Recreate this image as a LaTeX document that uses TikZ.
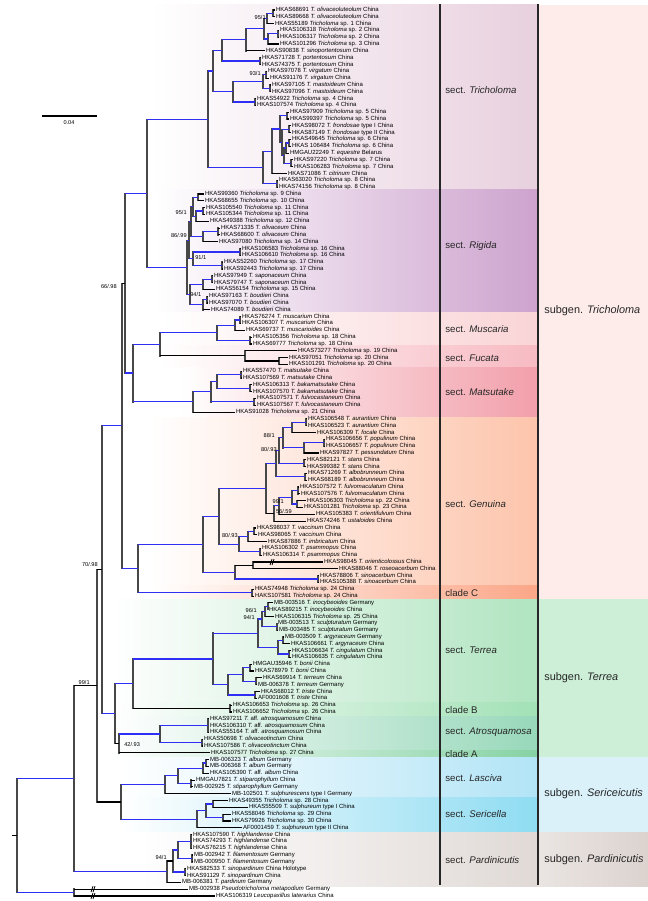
\documentclass[tikz,border=0pt]{standalone}
\usepackage{fontspec}
\setmainfont{Liberation Sans}
\usetikzlibrary{calc}

\definecolor{brBlue}{HTML}{2E2EF5}
\definecolor{cTri}{HTML}{E8D0DE}
\definecolor{cRig}{HTML}{CDA3CE}
\definecolor{cMus}{HTML}{FAD4D6}
\definecolor{cFuc}{HTML}{F7BAC2}
\definecolor{cMat}{HTML}{F29FAA}
\definecolor{cGen}{HTML}{FDC4AB}
\definecolor{cClC}{HTML}{FBA687}
\definecolor{cTer}{HTML}{B0E4C0}
\definecolor{cClB}{HTML}{A2E1B6}
\definecolor{cAtr}{HTML}{98D8BA}
\definecolor{cClA}{HTML}{86D2A4}
\definecolor{cLas}{HTML}{B2E4F6}
\definecolor{cSer}{HTML}{8FDCF2}
\definecolor{cPar}{HTML}{E0D9D6}
\definecolor{gTri}{HTML}{FDECEA}
\definecolor{gTer}{HTML}{CDEFD7}
\definecolor{gSer}{HTML}{DAF1FA}
\definecolor{gPar}{HTML}{DCD3CF}

% tip label, inner node, branch, coloured band
\newcommand\tipnode[4]{\node[tip] (#1) at (#2,{10+(#3-1)*6.815}) {#4};}
\newcommand\inode[4]{\path let \p1=(#3), \p2=(#4), \p3=(#2,0) in coordinate (#1) at (\x3,{0.5*\y1+0.5*\y2});}
\newcommand\branch[3][hk]{\draw[vt] (#2) -- (#2 |- #3); \draw[#1] (#2 |- #3) -- (#3);}
\newcommand\band[5]{\fill[left color=white, right color=#5] (#3,#1) rectangle (#4,#2);}

\begin{document}
\begin{tikzpicture}[x=0.2mm,y=-0.2mm,
    tip/.style={anchor=west, inner xsep=0.4pt, inner ysep=0pt, text height=2.4pt, text depth=0.7pt, font=\fontsize{3.4}{3.4}\selectfont},
    sup/.style={inner sep=0pt, font=\fontsize{3.2}{3.2}\selectfont},
    sect/.style={anchor=west, inner sep=0pt, text=black!85, font=\fontsize{5.5}{6}\selectfont},
    subg/.style={anchor=west, inner sep=0pt, text=black!85, font=\fontsize{6.2}{7}\selectfont},
    vt/.style={draw=black!72, line width=0.75pt, line cap=rect},
    hb/.style={draw=brBlue, line width=0.7pt},
    hk/.style={draw=black, line width=0.65pt},
    brk/.style={draw=black, line width=0.45pt},
    sepl/.style={draw=black!85, line width=1pt}]
\useasboundingbox (0,0) rectangle (648,901);

% bands
\band{5}{190}{150}{538}{cTri}
\band{190}{313}{155}{538}{cRig}
\band{313}{346}{160}{538}{cMus}
\band{346}{368}{160}{538}{cFuc}
\band{368}{417}{180}{538}{cMat}
\band{417}{585}{150}{538}{cGen}
\band{585}{599}{150}{538}{cClC}
\band{599}{702}{110}{538}{cTer}
\band{702}{716}{110}{538}{cClB}
\band{716}{750}{110}{538}{cAtr}
\band{750}{757}{110}{538}{cClA}
\band{757}{797}{120}{538}{cLas}
\band{797}{832}{120}{538}{cSer}
\band{832}{886}{140}{538}{cPar}
\fill[gTri] (538,5) rectangle (648,599);
\fill[gTer] (538,599) rectangle (648,757);
\fill[gSer] (538,757) rectangle (648,832);
\fill[left color=gPar!60!white, right color=gPar] (538,832) rectangle (648,886);
\draw[sepl] (440,4) -- (440,885);
\draw[sepl] (538,4) -- (538,885);

% section and subgenus names
\node[sect] (secTri) at (445,90) {sect. \textit{Tricholoma}};
\node[sect] (secRig) at (445,246) {sect. \textit{Rigida}};
\node[sect] (secMus) at (445,329) {sect. \textit{Muscaria}};
\node[sect] (secFuc) at (445,358) {sect. \textit{Fucata}};
\node[sect] (secMat) at (445,392) {sect. \textit{Matsutake}};
\node[sect] (secGen) at (445,504) {sect. \textit{Genuina}};
\node[sect] (secClC) at (445,593) {clade C};
\node[sect] (secTer) at (445,650) {sect. \textit{Terrea}};
\node[sect] (secClB) at (445,710) {clade B};
\node[sect] (secAtr) at (445,732) {sect. \textit{Atrosquamosa}};
\node[sect] (secClA) at (445,754) {clade A};
\node[sect] (secLas) at (445,778) {sect. \textit{Lasciva}};
\node[sect] (secSer) at (445,814) {sect. \textit{Sericella}};
\node[sect] (secPar) at (445,860) {sect. \textit{Pardinicutis}};
\node[subg] (subTri) at (544,311) {subgen. \textit{Tricholoma}};
\node[subg] (subTer) at (544,678) {subgen. \textit{Terrea}};
\node[subg] (subSer) at (544,794) {subgen. \textit{Sericeicutis}};
\node[subg] (subPar) at (544,860) {subgen. \textit{Pardinicutis}};

% tips
\tipnode{l1}{275}{1}{HKAS68691 \textit{T. olivaceoluteolum} China}
\tipnode{l2}{275}{2}{HKAS89668 \textit{T. olivaceoluteolum} China}
\tipnode{l3}{274}{3}{HKAS55189 \textit{Tricholoma} sp. 1 China}
\tipnode{l4}{279}{4}{HKAS106318 \textit{Tricholoma} sp. 2 China}
\tipnode{l5}{279}{5}{HKAS106317 \textit{Tricholoma} sp. 2 China}
\tipnode{l6}{279}{6}{HKAS101296 \textit{Tricholoma} sp. 3 China}
\tipnode{l7}{265}{7}{HKAS90838 \textit{T. sinoportentosum} China}
\tipnode{l8}{261}{8}{HKAS71728 \textit{T. portentosum} China}
\tipnode{l9}{261}{9}{HKAS74375 \textit{T. portentosum} China}
\tipnode{l10}{267}{10}{HKAS97078 \textit{T. virgatum} China}
\tipnode{l11}{269}{11}{HKAS91176 \textit{T. virgatum} China}
\tipnode{l12}{271}{12}{HKAS97105 \textit{T. mastoideum} China}
\tipnode{l13}{271}{13}{HKAS97096 \textit{T. mastoideum} China}
\tipnode{l14}{256}{14}{HKAS54922 \textit{Tricholoma} sp. 4 China}
\tipnode{l15}{256}{15}{HKAS107574 \textit{Tricholoma} sp. 4 China}
\tipnode{l16}{289}{16}{HKAS97909 \textit{Tricholoma} sp. 5 China}
\tipnode{l17}{289}{17}{HKAS99397 \textit{Tricholoma} sp. 5 China}
\tipnode{l18}{291}{18}{HKAS98072 \textit{T. frondosae} type I China}
\tipnode{l19}{291}{19}{HKAS87149 \textit{T. frondosae} type II China}
\tipnode{l20}{291}{20}{HKAS49645 \textit{Tricholoma} sp. 6 China}
\tipnode{l21}{291}{21}{HKAS 106484 \textit{Tricholoma} sp. 6 China}
\tipnode{l22}{289}{22}{HMGAU22249 \textit{T. equestre} Belarus}
\tipnode{l23}{293}{23}{HKAS97220 \textit{Tricholoma} sp. 7 China}
\tipnode{l24}{293}{24}{HKAS106283 \textit{Tricholoma} sp. 7 China}
\tipnode{l25}{287}{25}{HKAS71086 \textit{T. citrinum} China}
\tipnode{l26}{278}{26}{HKAS63020 \textit{Tricholoma} sp. 8 China}
\tipnode{l27}{278}{27}{HKAS74156 \textit{Tricholoma} sp. 8 China}
\tipnode{l28}{204}{28}{HKAS99360 \textit{Tricholoma} sp. 9 China}
\tipnode{l29}{204}{29}{HKAS68655 \textit{Tricholoma} sp. 10 China}
\tipnode{l30}{205}{30}{HKAS105540 \textit{Tricholoma} sp. 11 China}
\tipnode{l31}{205}{31}{HKAS105344 \textit{Tricholoma} sp. 11 China}
\tipnode{l32}{209}{32}{HKAS49388 \textit{Tricholoma} sp. 12 China}
\tipnode{l33}{220}{33}{HKAS71335 \textit{T. olivaceum} China}
\tipnode{l34}{220}{34}{HKAS68600 \textit{T. olivaceum} China}
\tipnode{l35}{218}{35}{HKAS97080 \textit{Tricholoma} sp. 14 China}
\tipnode{l36}{241}{36}{HKAS106583 \textit{Tricholoma} sp. 16 China}
\tipnode{l37}{241}{37}{HKAS106610 \textit{Tricholoma} sp. 16 China}
\tipnode{l38}{223}{38}{HKAS52260 \textit{Tricholoma} sp. 17 China}
\tipnode{l39}{223}{39}{HKAS92443 \textit{Tricholoma} sp. 17 China}
\tipnode{l40}{213}{40}{HKAS97949 \textit{T. saponaceum} China}
\tipnode{l41}{213}{41}{HKAS79747 \textit{T. saponaceum} China}
\tipnode{l42}{215}{42}{HKAS56154 \textit{Tricholoma} sp. 15 China}
\tipnode{l43}{208}{43}{HKAS97163 \textit{T. boudieri} China}
\tipnode{l44}{208}{44}{HKAS97070 \textit{T. boudieri} China}
\tipnode{l45}{210}{45}{HKAS74089 \textit{T. boudieri} China}
\tipnode{l46}{241}{46}{HKAS76274 \textit{T. muscarium} China}
\tipnode{l47}{241}{47}{HKAS106307 \textit{T. muscarium} China}
\tipnode{l48}{245}{48}{HKAS69737 \textit{T. muscarioides} China}
\tipnode{l49}{252}{49}{HKAS105356 \textit{Tricholoma} sp. 18 China}
\tipnode{l50}{252}{50}{HKAS69777 \textit{Tricholoma} sp. 18 China}
\tipnode{l51}{297}{51}{HKAS73277 \textit{Tricholoma} sp. 19 China}
\tipnode{l52}{288}{52}{HKAS97051 \textit{Tricholoma} sp. 20 China}
\tipnode{l53}{288}{53}{HKAS101291 \textit{Tricholoma} sp. 20 China}
\tipnode{l54}{242}{54}{HKAS57470 \textit{T. matsutake} China}
\tipnode{l55}{242}{55}{HKAS107569 \textit{T. matsutake} China}
\tipnode{l56}{252}{56}{HKAS106313 \textit{T. bakamatsutake} China}
\tipnode{l57}{252}{57}{HKAS107570 \textit{T. bakamatsutake} China}
\tipnode{l58}{256}{58}{HKAS107571 \textit{T. fulvocastaneum} China}
\tipnode{l59}{256}{59}{HKAS107567 \textit{T. fulvocastaneum} China}
\tipnode{l60}{235}{60}{HKAS91028 \textit{Tricholoma} sp. 21 China}
\tipnode{l61}{307}{61}{HKAS106548 \textit{T. aurantium} China}
\tipnode{l62}{307}{62}{HKAS106523 \textit{T. aurantium} China}
\tipnode{l63}{316}{63}{HKAS106309 \textit{T. focale} China}
\tipnode{l64}{325}{64}{HKAS106656 \textit{T. populinum} China}
\tipnode{l65}{325}{65}{HKAS106657 \textit{T. populinum} China}
\tipnode{l66}{319}{66}{HKAS97827 \textit{T. pessundatum} China}
\tipnode{l67}{306}{67}{HKAS82121 \textit{T. stans} China}
\tipnode{l68}{306}{68}{HKAS99382 \textit{T. stans} China}
\tipnode{l69}{307}{69}{HKAS71269 \textit{T. albobrunneum} China}
\tipnode{l70}{307}{70}{HKAS68189 \textit{T. albobrunneum} China}
\tipnode{l71}{299}{71}{HKAS107572 \textit{T. fulvomaculatum} China}
\tipnode{l72}{300}{72}{HKAS107576 \textit{T. fulvomaculatum} China}
\tipnode{l73}{306}{73}{HKAS106303 \textit{Tricholoma} sp. 22 China}
\tipnode{l74}{303}{74}{HKAS101281 \textit{Tricholoma} sp. 23 China}
\tipnode{l75}{315}{75}{HKAS105383 \textit{T. orientifulvum} China}
\tipnode{l76}{306}{76}{HKAS74246 \textit{T. ustaloides} China}
\tipnode{l77}{256}{77}{HKAS98037 \textit{T. vaccinum} China}
\tipnode{l78}{257}{78}{HKAS98065 \textit{T. vaccinum} China}
\tipnode{l79}{267}{79}{HKAS87886 \textit{T. imbricatum} China}
\tipnode{l80}{261}{80}{HKAS106302 \textit{T. psammopus} China}
\tipnode{l81}{262}{81}{HKAS106314 \textit{T. psammopus} China}
\tipnode{l82}{323}{82}{HKAS98045 \textit{T. orienticolossus} China}
\tipnode{l83}{338}{83}{HKAS88046 \textit{T. roseoacerbum} China}
\tipnode{l84}{319}{84}{HKAS78806 \textit{T. sinoacerbum} China}
\tipnode{l85}{319}{85}{HKAS105388 \textit{T. sinoacerbum} China}
\tipnode{l86}{254}{86}{HKAS74948 \textit{Tricholoma} sp. 24 China}
\tipnode{l87}{254}{87}{HAKS107581 \textit{Tricholoma} sp. 24 China}
\tipnode{l88}{273}{88}{MB-003516 \textit{T. inocybeoides} Germany}
\tipnode{l89}{268}{89}{HKAS89215 \textit{T. inocybeoides} China}
\tipnode{l90}{274}{90}{HKAS106315 \textit{Tricholoma} sp. 25 China}
\tipnode{l91}{277}{91}{MB-003513 \textit{T. sculpturatum} Germany}
\tipnode{l92}{278}{92}{MB-003485 \textit{T. sculpturatum} Germany}
\tipnode{l93}{284}{93}{MB-003509 \textit{T. argyraceum} Germany}
\tipnode{l94}{290}{94}{HKAS106661 \textit{T. argyraceum} China}
\tipnode{l95}{291}{95}{HKAS106634 \textit{T. cingulatum} China}
\tipnode{l96}{291}{96}{HKAS106635 \textit{T. cingulatum} China}
\tipnode{l97}{252}{97}{HMGAU35946 \textit{T. bonii} China}
\tipnode{l98}{254}{98}{HKAS78979 \textit{T. bonii} China}
\tipnode{l99}{262}{99}{HKAS69914 \textit{T. terreum} China}
\tipnode{l100}{257}{100}{MB-006378 \textit{T. terreum} Germany}
\tipnode{l101}{260}{101}{HKAS68012 \textit{T. triste} China}
\tipnode{l102}{257}{102}{AF0001608 \textit{T. triste} China}
\tipnode{l103}{232}{103}{HKAS106653 \textit{Tricholoma} sp. 26 China}
\tipnode{l104}{232}{104}{HKAS106652 \textit{Tricholoma} sp. 26 China}
\tipnode{l105}{209}{105}{HKAS97211 \textit{T.} aff. \textit{atrosquamosum} China}
\tipnode{l106}{209}{106}{HKAS106310 \textit{T.} aff. \textit{atrosquamosum} China}
\tipnode{l107}{209}{107}{HKAS55164 \textit{T.} aff. \textit{atrosquamosum} China}
\tipnode{l108}{203}{108}{HKAS50698 \textit{T. olivaceotinctum} China}
\tipnode{l109}{203}{109}{HKAS107586 \textit{T. olivaceotinctum} China}
\tipnode{l110}{210}{110}{HKAS107577 \textit{Tricholoma} sp. 27 China}
\tipnode{l111}{209}{111}{MB-006323 \textit{T. album} Germany}
\tipnode{l112}{209}{112}{MB-006368 \textit{T. album} Germany}
\tipnode{l113}{209}{113}{HKAS105390 \textit{T.} aff. \textit{album} China}
\tipnode{l114}{195}{114}{HMGAU7821 \textit{T. stiparophyllum} China}
\tipnode{l115}{193}{115}{MB-002925 \textit{T. stiparophyllum} Germany}
\tipnode{l116}{231}{116}{MB-102501 \textit{T. sulphurescens} type I Germany}
\tipnode{l117}{228}{117}{HKAS49355 \textit{Tricholoma} sp. 28 China}
\tipnode{l118}{248}{118}{HKAS55509 \textit{T. sulphureum} type I China}
\tipnode{l119}{231}{119}{HKAS58046 \textit{Tricholoma} sp. 29 China}
\tipnode{l120}{231}{120}{HKAS79926 \textit{Tricholoma} sp. 30 China}
\tipnode{l121}{242}{121}{AF0001459 \textit{T. sulphureum} type II China}
\tipnode{l122}{192}{122}{HKAS107590 \textit{T. highlandense} China}
\tipnode{l123}{192}{123}{HKAS74293 \textit{T. highlandense} China}
\tipnode{l124}{192}{124}{HKAS76215 \textit{T. highlandense} China}
\tipnode{l125}{193}{125}{MB-002942 \textit{T. filamentosum} Germany}
\tipnode{l126}{193}{126}{MB-000950 \textit{T. filamentosum} Germany}
\tipnode{l127}{186}{127}{HKAS82533 \textit{T. sinopardinum} China Holotype}
\tipnode{l128}{186}{128}{HKAS91129 \textit{T. sinopardinum} China}
\tipnode{l129}{181}{129}{MB-006381 \textit{T. pardinum} Germany}
\tipnode{l130}{188}{130}{MB-002938 \textit{Pseudotricholoma metapodium} Germany}
\tipnode{l131}{215}{131}{HKAS106319 \textit{Leucopaxillus laterarius} China}

% sect. Tricholoma
\inode{olv}{273}{l1}{l2} \branch{olv}{l1} \branch{olv}{l2}
\inode{n95}{267}{olv}{l3} \branch[hb]{n95}{olv} \branch{n95}{l3}
\inode{sp2}{278}{l4}{l5} \branch{sp2}{l4} \branch{sp2}{l5}
\inode{sp3}{268}{sp2}{l6} \branch[hb]{sp3}{sp2} \branch{sp3}{l6}
\inode{t1aaa}{264}{n95}{sp3} \branch[hb]{t1aaa}{n95} \branch[hb]{t1aaa}{sp3}
\inode{t1aa}{246}{t1aaa}{l7} \branch[hb]{t1aa}{t1aaa} \branch{t1aa}{l7}
\inode{port}{260}{l8}{l9} \branch{port}{l8} \branch{port}{l9}
\inode{t1a}{222}{t1aa}{port} \branch[hb]{t1a}{t1aa} \branch[hb]{t1a}{port}
\inode{virg}{266}{l10}{l11} \branch{virg}{l10} \branch{virg}{l11}
\inode{mast}{270}{l12}{l13} \branch{mast}{l12} \branch{mast}{l13}
\inode{vm}{263}{virg}{mast} \branch[hb]{vm}{virg} \branch[hb]{vm}{mast}
\inode{sp4}{255}{l14}{l15} \branch{sp4}{l14} \branch{sp4}{l15}
\inode{t1b}{233}{vm}{sp4} \branch[hb]{t1b}{vm} \branch[hb]{t1b}{sp4}
\inode{t1}{213}{t1a}{t1b} \branch[hb]{t1}{t1a} \branch[hb]{t1}{t1b}
\inode{sp5}{287}{l16}{l17} \branch{sp5}{l16} \branch{sp5}{l17}
\inode{fr}{289}{l18}{l19} \branch{fr}{l18} \branch{fr}{l19}
\inode{sp6}{289}{l20}{l21} \branch{sp6}{l20} \branch{sp6}{l21}
\inode{sp6e}{286}{sp6}{l22} \branch[hb]{sp6e}{sp6} \branch{sp6e}{l22}
\inode{sp7}{291}{l23}{l24} \branch{sp7}{l23} \branch{sp7}{l24}
\inode{nx}{284}{sp6e}{sp7} \branch[hb]{nx}{sp6e} \branch[hb]{nx}{sp7}
\inode{ny}{282}{fr}{nx} \branch[hb]{ny}{fr} \branch[hb]{ny}{nx}
\inode{nz}{280}{sp5}{ny} \branch[hb]{nz}{sp5} \branch[hb]{nz}{ny}
\inode{nc}{272}{nz}{l25} \branch[hb]{nc}{nz} \branch{nc}{l25}
\inode{sp8}{277}{l26}{l27} \branch{sp8}{l26} \branch{sp8}{l27}
\inode{t2}{263}{nc}{sp8} \branch[hb]{t2}{nc} \branch[hb]{t2}{sp8}
\inode{sTri}{208}{t1}{t2} \branch[hb]{sTri}{t1} \branch[hb]{sTri}{t2}

% sect. Rigida
\inode{r2829}{198}{l28}{l29} \branch{r2829}{l28} \branch{r2829}{l29}
\inode{sp11}{203}{l30}{l31} \branch{sp11}{l30} \branch{sp11}{l31}
\inode{sp1112}{196}{sp11}{l32} \branch[hb]{sp1112}{sp11} \branch{sp1112}{l32}
\inode{r1}{193}{r2829}{sp1112} \branch[hb]{r1}{r2829} \branch[hb]{r1}{sp1112}
\inode{oliv}{218}{l33}{l34} \branch{oliv}{l33} \branch{oliv}{l34}
\inode{r2}{203}{oliv}{l35} \branch[hb]{r2}{oliv} \branch{r2}{l35}
\inode{r12}{191}{r1}{r2} \branch[hb]{r12}{r1} \branch[hb]{r12}{r2}
\inode{sp16}{240}{l36}{l37} \branch{sp16}{l36} \branch{sp16}{l37}
\inode{sp17}{222}{l38}{l39} \branch{sp17}{l38} \branch{sp17}{l39}
\inode{r3}{193}{sp16}{sp17} \branch[hb]{r3}{sp16} \branch[hb]{r3}{sp17}
\inode{r123}{189}{r12}{r3} \branch[hb]{r123}{r12} \branch[hb]{r123}{r3}
\inode{sap}{212}{l40}{l41} \branch{sap}{l40} \branch{sap}{l41}
\inode{sapg}{203}{sap}{l42} \branch[hb]{sapg}{sap} \branch{sapg}{l42}
\inode{boud}{207}{l43}{l44} \branch{boud}{l43} \branch{boud}{l44}
\inode{boudg}{203}{boud}{l45} \branch[hb]{boudg}{boud} \branch{boudg}{l45}
\inode{r4}{190}{sapg}{boudg} \branch[hb]{r4}{sapg} \branch[hb]{r4}{boudg}
\inode{sRig}{187}{r123}{r4} \branch[hb]{sRig}{r123} \branch[hb]{sRig}{r4}
\inode{tr}{147}{sTri}{sRig} \branch[hb]{tr}{sTri} \branch[hb]{tr}{sRig}

% sect. Muscaria, Fucata, Matsutake
\inode{musc}{240}{l46}{l47} \branch{musc}{l46} \branch{musc}{l47}
\inode{mus1}{235}{musc}{l48} \branch[hb]{mus1}{musc} \branch{mus1}{l48}
\inode{sp18}{250}{l49}{l50} \branch{sp18}{l49} \branch{sp18}{l50}
\inode{sMus}{217}{mus1}{sp18} \branch[hb]{sMus}{mus1} \branch[hb]{sMus}{sp18}
\inode{sp20}{279}{l52}{l53} \branch{sp20}{l52} \branch{sp20}{l53}
\inode{sFuc}{245}{l51}{sp20} \branch{sFuc}{l51} \branch{sFuc}{sp20}
\inode{mf}{160}{sMus}{sFuc} \branch[hb]{mf}{sMus} \branch{mf}{sFuc}
\inode{mats}{241}{l54}{l55} \branch{mats}{l54} \branch{mats}{l55}
\inode{baka}{250}{l56}{l57} \branch{baka}{l56} \branch{baka}{l57}
\inode{mat1a}{217}{mats}{baka} \branch[hb]{mat1a}{mats} \branch[hb]{mat1a}{baka}
\inode{fulvo}{254}{l58}{l59} \branch{fulvo}{l58} \branch{fulvo}{l59}
\inode{mat1}{211}{mat1a}{fulvo} \branch[hb]{mat1}{mat1a} \branch[hb]{mat1}{fulvo}
\inode{sMat}{193}{mat1}{l60} \branch[hb]{sMat}{mat1} \branch{sMat}{l60}
\inode{mfm}{133}{mf}{sMat} \branch[hb]{mfm}{mf} \branch[hb]{mfm}{sMat}
\inode{na}{125}{tr}{mfm} \branch[hb]{na}{tr} \branch[hb]{na}{mfm}

% sect. Genuina, clade C
\inode{aur}{306}{l61}{l62} \branch{aur}{l61} \branch{aur}{l62}
\inode{af}{292}{aur}{l63} \branch[hb]{af}{aur} \branch{af}{l63}
\inode{pop}{324}{l64}{l65} \branch{pop}{l64} \branch{pop}{l65}
\inode{pp}{304}{pop}{l66} \branch[hb]{pp}{pop} \branch{pp}{l66}
\inode{n88}{283}{af}{pp} \branch[hb]{n88}{af} \branch[hb]{n88}{pp}
\inode{stans}{304}{l67}{l68} \branch{stans}{l67} \branch{stans}{l68}
\inode{n80}{279}{n88}{stans} \branch[hb]{n80}{n88} \branch[hb]{n80}{stans}
\inode{alb}{305}{l69}{l70} \branch{alb}{l69} \branch{alb}{l70}
\inode{n80b}{276}{n80}{alb} \branch[hb]{n80b}{n80} \branch[hb]{n80b}{alb}
\inode{fm}{298}{l71}{l72} \branch{fm}{l71} \branch{fm}{l72}
\inode{sp2223}{297}{l73}{l74} \branch{sp2223}{l73} \branch{sp2223}{l74}
\inode{fm2}{292}{fm}{sp2223} \branch[hb]{fm2}{fm} \branch[hb]{fm2}{sp2223}
\inode{n99}{279}{fm2}{l75} \branch[hb]{n99}{fm2} \branch{n99}{l75}
\inode{g99}{274}{n99}{l76} \branch[hb]{g99}{n99} \branch{g99}{l76}
\inode{ga}{266}{n80b}{g99} \branch[hb]{ga}{n80b} \branch{ga}{g99}
\inode{vacc}{254}{l77}{l78} \branch{vacc}{l77} \branch{vacc}{l78}
\inode{vi}{248}{vacc}{l79} \branch[hb]{vi}{vacc} \branch{vi}{l79}
\inode{psa}{260}{l80}{l81} \branch{psa}{l80} \branch{psa}{l81}
\inode{gb}{239}{vi}{psa} \branch[hb]{gb}{vi} \branch[hb]{gb}{psa}
\inode{gab}{219}{ga}{gb} \branch[hb]{gab}{ga} \branch[hb]{gab}{gb}
\inode{orc}{253}{l82}{l83} \branch{orc}{l82} \branch{orc}{l83}
\inode{sino}{318}{l84}{l85} \branch{sino}{l84} \branch{sino}{l85}
\inode{gc3}{235}{orc}{sino} \branch{gc3}{orc} \branch[hb]{gc3}{sino}
\inode{sGen}{203}{gab}{gc3} \branch[hb]{sGen}{gab} \branch[hb]{sGen}{gc3}
\inode{clC}{252}{l86}{l87} \branch{clC}{l86} \branch{clC}{l87}
\inode{gcc}{138}{sGen}{clC} \branch[hb]{gcc}{sGen} \branch[hb]{gcc}{clC}
\inode{nb}{122}{na}{gcc} \branch{nb}{na} \branch[hb]{nb}{gcc}

% sect. Terrea, clade B, sect. Atrosquamosa, clade A
\inode{inoc}{268}{l88}{l89} \branch{inoc}{l88} \branch{inoc}{l89}
\inode{ino}{265}{inoc}{l90} \branch[hb]{ino}{inoc} \branch{ino}{l90}
\inode{scu}{277}{l91}{l92} \branch{scu}{l91} \branch{scu}{l92}
\inode{ter1a}{262}{ino}{scu} \branch[hb]{ter1a}{ino} \branch[hb]{ter1a}{scu}
\inode{arg}{283}{l93}{l94} \branch{arg}{l93} \branch{arg}{l94}
\inode{cing}{289}{l95}{l96} \branch{cing}{l95} \branch{cing}{l96}
\inode{ter1b}{278}{arg}{cing} \branch[hb]{ter1b}{arg} \branch[hb]{ter1b}{cing}
\inode{ter1}{258}{ter1a}{ter1b} \branch[hb]{ter1}{ter1a} \branch[hb]{ter1}{ter1b}
\inode{bonii}{250}{l97}{l98} \branch{bonii}{l97} \branch{bonii}{l98}
\inode{terr}{256}{l99}{l100} \branch{terr}{l99} \branch{terr}{l100}
\inode{ter2a}{243}{bonii}{terr} \branch[hb]{ter2a}{bonii} \branch[hb]{ter2a}{terr}
\inode{trist}{255}{l101}{l102} \branch{trist}{l101} \branch{trist}{l102}
\inode{ter2}{228}{ter2a}{trist} \branch[hb]{ter2}{ter2a} \branch[hb]{ter2}{trist}
\inode{sTer}{213}{ter1}{ter2} \branch[hb]{sTer}{ter1} \branch[hb]{sTer}{ter2}
\inode{clB}{230}{l103}{l104} \branch{clB}{l103} \branch{clB}{l104}
\inode{terb}{133}{sTer}{clB} \branch[hb]{terb}{sTer} \branch{terb}{clB}
\inode{atro}{208}{l105}{l107} \branch{atro}{l105} \branch{atro}{l106} \branch{atro}{l107}
\inode{olivo}{202}{l108}{l109} \branch{olivo}{l108} \branch{olivo}{l109}
\inode{sAtr}{160}{atro}{olivo} \branch[hb]{sAtr}{atro} \branch[hb]{sAtr}{olivo}
\inode{ata}{119}{sAtr}{l110} \branch[hb]{ata}{sAtr} \branch{ata}{l110}
\inode{ta}{115}{terb}{ata} \branch[hb]{ta}{terb} \branch{ta}{ata}
\inode{nb2}{102}{nb}{ta} \branch[hb]{nb2}{nb} \branch[hb]{nb2}{ta}

% subgen. Sericeicutis
\inode{album}{206}{l111}{l112} \branch{album}{l111} \branch{album}{l112}
\inode{albg}{203}{album}{l113} \branch[hb]{albg}{album} \branch{albg}{l113}
\inode{stip}{191}{l114}{l115} \branch{stip}{l114} \branch{stip}{l115}
\inode{las1}{178}{albg}{stip} \branch[hb]{las1}{albg} \branch[hb]{las1}{stip}
\inode{sLas}{165}{las1}{l116} \branch[hb]{sLas}{las1} \branch{sLas}{l116}
\inode{sera}{213}{l117}{l118} \branch{sera}{l117} \branch{sera}{l118}
\inode{serb}{223}{l119}{l120} \branch{serb}{l119} \branch{serb}{l120}
\inode{serab}{206}{sera}{serb} \branch[hb]{serab}{sera} \branch[hb]{serab}{serb}
\inode{sSer}{197}{serab}{l121} \branch[hb]{sSer}{serab} \branch{sSer}{l121}
\inode{ser}{121}{sLas}{sSer} \branch[hb]{ser}{sLas} \branch[hb]{ser}{sSer}
\inode{ncc}{97}{nb2}{ser} \branch{ncc}{nb2} \branch{ncc}{ser}

% subgen. Pardinicutis, outgroup, root
\inode{highl}{191}{l122}{l124} \branch{highl}{l122} \branch{highl}{l123} \branch{highl}{l124}
\inode{filam}{192}{l125}{l126} \branch{filam}{l125} \branch{filam}{l126}
\inode{para}{178}{highl}{filam} \branch[hb]{para}{highl} \branch[hb]{para}{filam}
\inode{sinop}{185}{l127}{l128} \branch{sinop}{l127} \branch{sinop}{l128}
\inode{parb}{173}{para}{sinop} \branch[hb]{parb}{para} \branch[hb]{parb}{sinop}
\inode{sPar}{167}{parb}{l129} \branch{sPar}{parb} \branch{sPar}{l129}
\inode{ing}{74}{ncc}{sPar} \branch{ing}{ncc} \branch[hb]{ing}{sPar}
\inode{out}{74}{l130}{l131} \branch{out}{l130} \branch{out}{l131}
\inode{root}{17}{ing}{out} \branch[hb]{root}{ing} \branch[hb]{root}{out}
\path (root) ++(-5,0) coordinate (stub);
\draw[hk] (stub) -- (root);

% broken branches
\coordinate (kx) at (93,0);
\coordinate (kx2) at (272,0);
\foreach \k/\r in {kx/l130, kx/l131, kx2/l82}
  \draw[brk] ($(\k |- \r)+(-2,3)$) -- ++(2,-6) ($(\k |- \r)+(0,3)$) -- ++(2,-6);

% support values
\node[sup, anchor=east] (b1) at (266,17) {95/1};
\node[sup, anchor=east] (b2) at (261,73) {93/1};
\node[sup, anchor=east] (b3) at (187,212) {95/1};
\node[sup, anchor=east] (b4) at (187,235) {86/.99};
\node[sup, anchor=west] (b5) at (195,257) {91/1};
\node[sup, anchor=west] (b6) at (190,294) {94/1};
\node[sup, anchor=east] (b7) at (117,286) {66/.98};
\node[sup, anchor=east] (b8) at (275,435) {88/1};
\node[sup, anchor=east] (b9) at (277,449) {80/.93};
\node[sup, anchor=east] (b10) at (284,501) {99/1};
\node[sup, anchor=east] (b11) at (292,511) {56/.59};
\node[sup, anchor=east] (b12) at (238,535) {80/.93};
\node[sup, anchor=east] (b13) at (98,564) {70/.98};
\node[sup, anchor=east] (b14) at (257,610) {96/1};
\node[sup, anchor=east] (b15) at (255,617) {94/1};
\node[sup, anchor=east] (b16) at (90,682) {99/1};
\node[sup, anchor=west] (b17) at (124,744) {42/.93};
\node[sup, anchor=east] (b18) at (167,857) {94/1};

% scale bar
\coordinate (sbA) at (42,116);
\coordinate (sbB) at (97,116);
\draw[hk, line width=0.7pt] (sbA) -- (sbB);
\node[sup] (sbT) at (69,123) {0.04};
\end{tikzpicture}
\end{document}
